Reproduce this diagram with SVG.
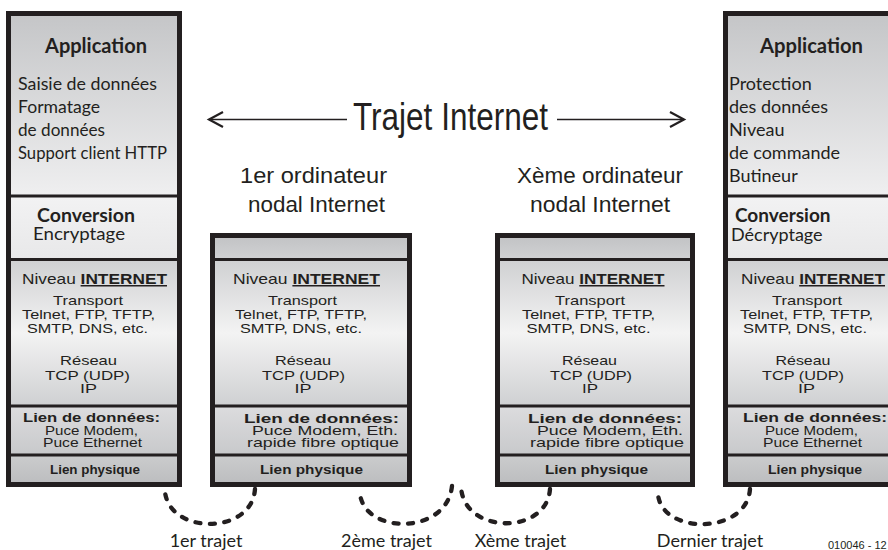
<svg xmlns="http://www.w3.org/2000/svg" width="888" height="550" viewBox="0 0 888 550">
<defs>
<linearGradient id="gApp" x1="0" y1="0" x2="0" y2="1"><stop offset="0" stop-color="#c5c6c8"/><stop offset="1" stop-color="#efeff0"/></linearGradient>
<linearGradient id="gConv" x1="0" y1="0" x2="0" y2="1"><stop offset="0" stop-color="#f2f2f3"/><stop offset="1" stop-color="#e8e8e9"/></linearGradient>
<linearGradient id="gNet" x1="0" y1="0" x2="0" y2="1"><stop offset="0" stop-color="#cfd0d2"/><stop offset="0.5" stop-color="#f3f3f3"/><stop offset="1" stop-color="#cfd0d2"/></linearGradient>
<linearGradient id="gLink" x1="0" y1="0" x2="0" y2="1"><stop offset="0" stop-color="#dcdcde"/><stop offset="1" stop-color="#c8c9cb"/></linearGradient>
<linearGradient id="gPhys" x1="0" y1="0" x2="0" y2="1"><stop offset="0" stop-color="#cbcccd"/><stop offset="1" stop-color="#bdbec0"/></linearGradient>
<linearGradient id="gTop" x1="0" y1="0" x2="0" y2="1"><stop offset="0" stop-color="#c3c4c6"/><stop offset="1" stop-color="#d0d1d3"/></linearGradient>
</defs>
<style>
.frame{fill:none;stroke:#231f20;stroke-width:5}
.div{stroke:#231f20;stroke-width:3}
.fr{font-family:Lato,"Open Sans",sans-serif;font-size:18px;fill:#231f20}
.frb{font-family:Lato,"Open Sans",sans-serif;font-size:20px;font-weight:bold;fill:#231f20}
.conv{font-size:19px}
.ar{font-family:"Liberation Sans",Arial,sans-serif;font-size:13.5px;fill:#231f20;text-anchor:middle}
.niv{font-size:15px}
.sm{font-size:13px}
.b{font-weight:bold}
.lp{font-size:12.5px;font-weight:bold}
.title{font-family:"Liberation Sans",Arial,sans-serif;font-size:39px;fill:#231f20;text-anchor:middle}
.sub{font-family:"Liberation Sans",Arial,sans-serif;font-size:22px;fill:#231f20;text-anchor:middle}
.lab{font-family:Lato,"Open Sans",sans-serif;font-size:18px;fill:#231f20;text-anchor:middle}
.arrow{fill:none;stroke:#231f20;stroke-width:1.5}
.head{fill:none;stroke:#231f20;stroke-width:2.2}
.dash{fill:none;stroke:#231f20;stroke-width:4.3;stroke-linecap:round;stroke-dasharray:5 9.5}
</style>

<g id="title">
<line class="arrow" x1="209" y1="119.5" x2="347" y2="119.5"/>
<polyline class="head" points="223,112 209,119.5 223,127"/>
<line class="arrow" x1="557" y1="119.5" x2="684" y2="119.5"/>
<polyline class="head" points="670,112 684,119.5 670,127"/>
<text class="title" x="450.5" y="130" textLength="195" lengthAdjust="spacingAndGlyphs">Trajet Internet</text>
</g>

<g id="host-left">
<rect x="11" y="16" width="166" height="180" fill="url(#gApp)"/>
<rect x="11" y="196" width="166" height="63.5" fill="url(#gConv)"/>
<rect x="11" y="259.5" width="166" height="146.5" fill="url(#gNet)"/>
<rect x="11" y="406" width="166" height="49" fill="url(#gLink)"/>
<rect x="11" y="455" width="166" height="27" fill="url(#gPhys)"/>
<line class="div" x1="8.5" y1="196" x2="179.5" y2="196"/>
<line class="div" x1="8.5" y1="259.5" x2="179.5" y2="259.5"/>
<line class="div" x1="8.5" y1="406" x2="179.5" y2="406"/>
<line class="div" x1="8.5" y1="455" x2="179.5" y2="455"/>
<rect class="frame" x="8.5" y="13.5" width="171" height="471"/>
<text class="frb" x="96" y="53" text-anchor="middle" textLength="102" lengthAdjust="spacingAndGlyphs">Application</text>
<text class="fr" x="18" y="89.5" textLength="139" lengthAdjust="spacingAndGlyphs">Saisie de données</text>
<text class="fr" x="18" y="113" textLength="82" lengthAdjust="spacingAndGlyphs">Formatage</text>
<text class="fr" x="18" y="136" textLength="87" lengthAdjust="spacingAndGlyphs">de données</text>
<text class="fr" x="18" y="159" textLength="149" lengthAdjust="spacingAndGlyphs">Support client HTTP</text>
<text class="frb conv" x="37" y="222" textLength="98" lengthAdjust="spacingAndGlyphs">Conversion</text>
<text class="fr" x="33" y="240" textLength="92" lengthAdjust="spacingAndGlyphs">Encryptage</text>
<text class="ar niv" x="94.5" y="284" textLength="145" lengthAdjust="spacingAndGlyphs">Niveau <tspan class="b" text-decoration="underline">INTERNET</tspan></text>
<text class="ar" x="88" y="305" textLength="70" lengthAdjust="spacingAndGlyphs">Transport</text>
<text class="ar" x="88.5" y="319" textLength="133" lengthAdjust="spacingAndGlyphs">Telnet, FTP, TFTP,</text>
<text class="ar" x="87.5" y="333" textLength="121" lengthAdjust="spacingAndGlyphs">SMTP, DNS, etc.</text>
<text class="ar" x="88.5" y="365" textLength="57" lengthAdjust="spacingAndGlyphs">Réseau</text>
<text class="ar" x="87.5" y="380" textLength="85" lengthAdjust="spacingAndGlyphs">TCP (UDP)</text>
<text class="ar" x="88.5" y="393" textLength="17" lengthAdjust="spacingAndGlyphs">IP</text>
<text class="ar b" x="91.5" y="422" textLength="137" lengthAdjust="spacingAndGlyphs">Lien de données:</text>
<text class="ar sm" x="91.5" y="435" textLength="93" lengthAdjust="spacingAndGlyphs">Puce Modem,</text>
<text class="ar sm" x="92.5" y="447" textLength="99" lengthAdjust="spacingAndGlyphs">Puce Ethernet</text>
<text class="ar lp" x="95" y="473.5" textLength="90" lengthAdjust="spacingAndGlyphs">Lien physique</text>
</g>

<g id="node-1">
<text class="sub" x="313.5" y="183" textLength="147" lengthAdjust="spacingAndGlyphs">1er ordinateur</text>
<text class="sub" x="316.5" y="211.5" textLength="137" lengthAdjust="spacingAndGlyphs">nodal Internet</text>
<rect x="215" y="238" width="192" height="21.5" fill="url(#gTop)"/>
<rect x="215" y="259.5" width="192" height="146.5" fill="url(#gNet)"/>
<rect x="215" y="406" width="192" height="49" fill="url(#gLink)"/>
<rect x="215" y="455" width="192" height="27" fill="url(#gPhys)"/>
<line class="div" x1="212.5" y1="259.5" x2="409.5" y2="259.5"/>
<line class="div" x1="212.5" y1="406" x2="409.5" y2="406"/>
<line class="div" x1="212.5" y1="455" x2="409.5" y2="455"/>
<rect class="frame" x="212.5" y="235.5" width="197" height="249"/>
<text class="ar niv" x="306.5" y="284" textLength="147" lengthAdjust="spacingAndGlyphs">Niveau <tspan class="b" text-decoration="underline">INTERNET</tspan></text>
<text class="ar" x="302.5" y="305" textLength="69" lengthAdjust="spacingAndGlyphs">Transport</text>
<text class="ar" x="301" y="319" textLength="132" lengthAdjust="spacingAndGlyphs">Telnet, FTP, TFTP,</text>
<text class="ar" x="301" y="333" textLength="122" lengthAdjust="spacingAndGlyphs">SMTP, DNS, etc.</text>
<text class="ar" x="303" y="365" textLength="56" lengthAdjust="spacingAndGlyphs">Réseau</text>
<text class="ar" x="303.5" y="380" textLength="83" lengthAdjust="spacingAndGlyphs">TCP (UDP)</text>
<text class="ar" x="303" y="393" textLength="17" lengthAdjust="spacingAndGlyphs">IP</text>
<text class="ar b" x="321.5" y="422.5" textLength="155" lengthAdjust="spacingAndGlyphs">Lien de données:</text>
<text class="ar sm" x="325" y="435" textLength="146" lengthAdjust="spacingAndGlyphs">Puce Modem, Eth.</text>
<text class="ar sm" x="323" y="447" textLength="152" lengthAdjust="spacingAndGlyphs">rapide fibre optique</text>
<text class="ar lp" x="311.5" y="473.5" textLength="103" lengthAdjust="spacingAndGlyphs">Lien physique</text>
</g>

<g id="node-x">
<text class="sub" x="600" y="183" textLength="166" lengthAdjust="spacingAndGlyphs">Xème ordinateur</text>
<text class="sub" x="600" y="211.5" textLength="140" lengthAdjust="spacingAndGlyphs">nodal Internet</text>
<rect x="500" y="238" width="190" height="21.5" fill="url(#gTop)"/>
<rect x="500" y="259.5" width="190" height="146.5" fill="url(#gNet)"/>
<rect x="500" y="406" width="190" height="49" fill="url(#gLink)"/>
<rect x="500" y="455" width="190" height="27" fill="url(#gPhys)"/>
<line class="div" x1="497.5" y1="259.5" x2="692.5" y2="259.5"/>
<line class="div" x1="497.5" y1="406" x2="692.5" y2="406"/>
<line class="div" x1="497.5" y1="455" x2="692.5" y2="455"/>
<rect class="frame" x="497.5" y="235.5" width="195" height="249"/>
<text class="ar niv" x="593" y="284" textLength="143" lengthAdjust="spacingAndGlyphs">Niveau <tspan class="b" text-decoration="underline">INTERNET</tspan></text>
<text class="ar" x="590" y="305" textLength="70" lengthAdjust="spacingAndGlyphs">Transport</text>
<text class="ar" x="588.5" y="319" textLength="133" lengthAdjust="spacingAndGlyphs">Telnet, FTP, TFTP,</text>
<text class="ar" x="588.5" y="333" textLength="124" lengthAdjust="spacingAndGlyphs">SMTP, DNS, etc.</text>
<text class="ar" x="589.5" y="365" textLength="55" lengthAdjust="spacingAndGlyphs">Réseau</text>
<text class="ar" x="591" y="380" textLength="82" lengthAdjust="spacingAndGlyphs">TCP (UDP)</text>
<text class="ar" x="590" y="393" textLength="16" lengthAdjust="spacingAndGlyphs">IP</text>
<text class="ar b" x="605" y="422.5" textLength="154" lengthAdjust="spacingAndGlyphs">Lien de données:</text>
<text class="ar sm" x="610" y="435" textLength="146" lengthAdjust="spacingAndGlyphs">Puce Modem, Eth.</text>
<text class="ar sm" x="607" y="447" textLength="154" lengthAdjust="spacingAndGlyphs">rapide fibre optique</text>
<text class="ar lp" x="596.5" y="473.5" textLength="103" lengthAdjust="spacingAndGlyphs">Lien physique</text>
</g>

<g id="host-right">
<rect x="728" y="16" width="170" height="180" fill="url(#gApp)"/>
<rect x="728" y="196" width="170" height="63.5" fill="url(#gConv)"/>
<rect x="728" y="259.5" width="170" height="146.5" fill="url(#gNet)"/>
<rect x="728" y="406" width="170" height="49" fill="url(#gLink)"/>
<rect x="728" y="455" width="170" height="27" fill="url(#gPhys)"/>
<line class="div" x1="725.5" y1="196" x2="900" y2="196"/>
<line class="div" x1="725.5" y1="259.5" x2="900" y2="259.5"/>
<line class="div" x1="725.5" y1="406" x2="900" y2="406"/>
<line class="div" x1="725.5" y1="455" x2="900" y2="455"/>
<rect class="frame" x="725.5" y="13.5" width="173" height="471"/>
<text class="frb" x="811.5" y="53" text-anchor="middle" textLength="103" lengthAdjust="spacingAndGlyphs">Application</text>
<text class="fr" x="729" y="90">Protection</text>
<text class="fr" x="729" y="113">des données</text>
<text class="fr" x="729" y="136">Niveau</text>
<text class="fr" x="729" y="159">de commande</text>
<text class="fr" x="729" y="182">Butineur</text>
<text class="frb conv" x="735" y="222">Conversion</text>
<text class="fr" x="731" y="241">Décryptage</text>
<text class="ar niv" x="813" y="284" textLength="144" lengthAdjust="spacingAndGlyphs">Niveau <tspan class="b" text-decoration="underline">INTERNET</tspan></text>
<text class="ar" x="807" y="305" textLength="70" lengthAdjust="spacingAndGlyphs">Transport</text>
<text class="ar" x="806.5" y="319" textLength="133" lengthAdjust="spacingAndGlyphs">Telnet, FTP, TFTP,</text>
<text class="ar" x="805" y="333" textLength="124" lengthAdjust="spacingAndGlyphs">SMTP, DNS, etc.</text>
<text class="ar" x="803" y="365" textLength="55" lengthAdjust="spacingAndGlyphs">Réseau</text>
<text class="ar" x="803" y="380" textLength="82" lengthAdjust="spacingAndGlyphs">TCP (UDP)</text>
<text class="ar" x="806.5" y="393" textLength="17" lengthAdjust="spacingAndGlyphs">IP</text>
<text class="ar b" x="815" y="422" textLength="144" lengthAdjust="spacingAndGlyphs">Lien de données:</text>
<text class="ar sm" x="811.5" y="435" textLength="93" lengthAdjust="spacingAndGlyphs">Puce Modem,</text>
<text class="ar sm" x="812.5" y="447" textLength="99" lengthAdjust="spacingAndGlyphs">Puce Ethernet</text>
<text class="ar lp" x="815" y="473.5" textLength="94" lengthAdjust="spacingAndGlyphs">Lien physique</text>
</g>

<g id="connectors">
<path class="dash" d="M255,489 C252,535 170,535 165,492"/>
<path class="dash" d="M452,486 C447,535 365,535 360,494"/>
<path class="dash" d="M550,489 C547,535 464,535 461,487"/>
<path class="dash" d="M750,489 C747,535 661,535 658,494"/>
</g>

<g id="labels">
<text class="lab" x="206" y="546.5">1er trajet</text>
<text class="lab" x="386.5" y="546.5">2ème trajet</text>
<text class="lab" x="520.5" y="546.5">Xème trajet</text>
<text class="lab" x="710" y="546.5">Dernier trajet</text>
<text x="828" y="549" font-family="Liberation Sans, Arial, sans-serif" font-size="11" fill="#231f20">010046 - 12</text>
</g>
</svg>
